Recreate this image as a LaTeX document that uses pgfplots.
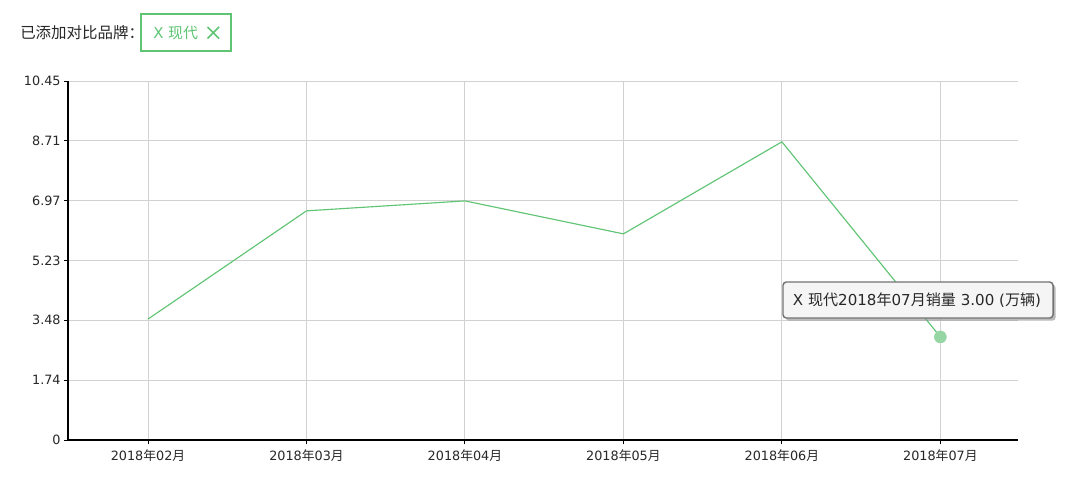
\documentclass[border=0pt]{standalone}
\usepackage{fontspec}
\setmainfont{DejaVu Sans}
\newfontfamily\cjk{Noto Sans CJK SC}
\usepackage{pgfplots}
\pgfplotsset{compat=1.18}
\usetikzlibrary{shadows}
\definecolor{lgreen}{RGB}{95,196,115}
\definecolor{mgreen}{RGB}{150,214,165}
\definecolor{txt}{RGB}{40,40,40}
\definecolor{gridc}{RGB}{210,210,210}
\begin{document}
\begin{tikzpicture}[x=0.75pt,y=0.75pt]
\useasboundingbox (0,0) rectangle (1080,501);
\fill[white] (0,0) rectangle (1080,501);
% header
\node[anchor=west, text=txt, inner sep=0pt, font=\fontsize{11.6}{13}\selectfont] at (20,468) {\cjk 已添加对比品牌：};
\draw[lgreen, line width=0.9pt] (141,487) rectangle (231,450);
\node[anchor=west, text=lgreen, inner sep=0pt, font=\fontsize{11.2}{13}\selectfont] at (153,468.5) {X {\cjk 现代}};
\draw[lgreen, line width=1.3pt] (207.5,474) -- (219,462.5) (207.5,462.5) -- (219,474);
\begin{axis}[
  at={(51pt,45.75pt)}, anchor=south west,
  scale only axis, width=712.5pt, height=269.25pt,
  xmin=-0.505, xmax=5.49, ymin=0, ymax=10.45,
  axis x line*=bottom, axis y line*=left,
  axis line style={black, line width=0.9pt, -},
  xtick={0,1,2,3,4,5},
  xticklabels={2018{\cjk 年}02{\cjk 月},2018{\cjk 年}03{\cjk 月},2018{\cjk 年}04{\cjk 月},2018{\cjk 年}05{\cjk 月},2018{\cjk 年}06{\cjk 月},2018{\cjk 年}07{\cjk 月}},
  ytick={0,1.741667,3.483333,5.225,6.966667,8.708333,10.45},
  yticklabels={0,1.74,3.48,5.23,6.97,8.71,10.45},
  tick align=outside,
  major tick length=3pt,
  tick style={black, line width=0.75pt},
  grid=major,
  grid style={gridc, line width=0.75pt},
  tick label style={font=\fontsize{9.6}{11}\selectfont, text=txt},
  xticklabel style={yshift=-1pt},
  yticklabel style={xshift=1pt},
  clip=false,
]
\addplot[lgreen, line width=0.85pt, mark=none] coordinates {
  (0,3.52) (1,6.67) (2,6.96) (3,6.00) (4,8.68) (5,3.00)
};
\addplot[mgreen, only marks, mark=*, mark size=4.5pt, mark options={fill=mgreen, draw=mgreen}] coordinates {(5,3.00)};
\end{axis}
% tooltip
\draw[draw=black!55, line width=1.1pt, fill=black!4, rounded corners=2.5pt,
      drop shadow={shadow xshift=2pt, shadow yshift=-2pt, fill=black!45, opacity=0.6}]
      (783,183) rectangle (1053,219);
\node[text=txt, inner sep=0pt, font=\fontsize{11.3}{13}\selectfont] at (917,201)
  {X {\cjk 现代}2018{\cjk 年}07{\cjk 月销量} 3.00 ({\cjk 万辆})};
\end{tikzpicture}
\end{document}
